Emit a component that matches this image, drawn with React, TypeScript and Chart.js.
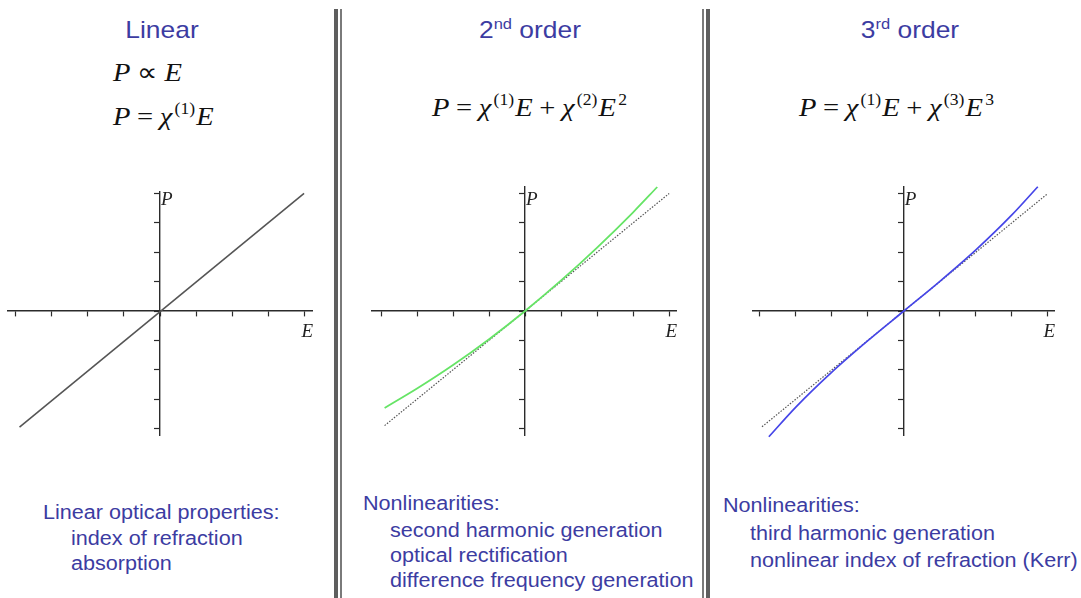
import React, { useEffect, useRef } from "react";
import { Chart, registerables } from "chart.js";

Chart.register(...registerables);

// ---- data -------------------------------------------------------------
// Shared tick positions on both axes (arbitrary units)
const tickValues = [-4, -3, -2, -1, 0, 1, 2, 3, 4];

// Linear response: P = chi(1) E
const linearE = [-3.9, 4.0];
const linearP = [-3.95, 4.0];

// Second order: linear reference and quadratic response
const secondRefE = [-3.9, 4.0];
const secondRefP = [-3.9, 4.0];
const secondE = [-3.9, -3, -2, -1, 0, 1, 2, 3, 3.67];
const secondP = [-3.3, -2.64, -1.84, -0.96, 0, 1.04, 2.16, 3.36, 4.22];

// Third order: linear reference and cubic response
const thirdRefE = [-3.94, 4.0];
const thirdRefP = [-3.94, 4.0];
const thirdE = [-3.75, -3, -2, -1, 0, 1, 2, 3, 3.72];
const thirdP = [-4.28, -3.27, -2.08, -1.01, 0, 1.01, 2.08, 3.27, 4.23];

// Notes under each plot
const linearNotes = ["Linear optical properties:", "index of refraction", "absorption"];
const secondNotes = [
  "Nonlinearities:",
  "second harmonic generation",
  "optical rectification",
  "difference frequency generation",
];
const thirdNotes = ["Nonlinearities:", "third harmonic generation", "nonlinear index of refraction (Kerr)"];

// ---- styles -----------------------------------------------------------
const BLUE_TEXT = "#3c3ca2";
const AXIS = "#2b2b2b";
const SERIF = '"Liberation Serif", "Times New Roman", serif';
const SANS = '"Liberation Sans", Arial, sans-serif';

const toPoints = (xs: number[], ys: number[]) => xs.map((x, i) => ({ x, y: ys[i] }));

// Draws the italic P and E names next to the crossing axes
const axisNames = {
  id: "axisNames",
  afterDraw(chart: any) {
    const { ctx, chartArea, scales } = chart;
    const ox = scales.x.getPixelForValue(0);
    const oy = scales.y.getPixelForValue(0);
    ctx.save();
    ctx.fillStyle = "#222";
    ctx.font = `italic 19px ${SERIF}`;
    ctx.textAlign = "left";
    ctx.textBaseline = "alphabetic";
    ctx.fillText("P", ox + 1, oy - 106);
    ctx.textAlign = "right";
    ctx.fillText("E", chartArea.right + 1, oy + 26);
    ctx.restore();
  },
};

type Area = { left: number; top: number; width: number; height: number };

function Plot({
  area,
  xMin,
  xMax,
  yMin,
  yMax,
  datasets,
}: {
  area: Area;
  xMin: number;
  xMax: number;
  yMin: number;
  yMax: number;
  datasets: any[];
}) {
  const ref = useRef<HTMLCanvasElement>(null);
  const pad = 14;
  useEffect(() => {
    if (!ref.current) return;
    const axis = (min: number, max: number, pos: any) => ({
      type: "linear" as const,
      min,
      max,
      position: pos,
      ticks: { display: false, stepSize: 1, includeBounds: false },
      afterBuildTicks: (s: any) => {
        s.ticks = tickValues.map((v) => ({ value: v }));
      },
      grid: {
        display: true,
        drawOnChartArea: false,
        drawTicks: true,
        tickLength: 5,
        tickWidth: 1.2,
        color: AXIS,
      },
      border: { display: true, color: AXIS, width: 1.4 },
    });
    const chart = new Chart(ref.current, {
      type: "scatter",
      data: { datasets },
      options: {
        animation: false,
        responsive: false,
        devicePixelRatio: 1,
        layout: { padding: pad },
        plugins: { legend: { display: false }, tooltip: { enabled: false } },
        scales: {
          x: axis(xMin, xMax, { y: 0 }),
          y: axis(yMin, yMax, { x: 0 }),
        },
      },
      plugins: [axisNames],
    });
    return () => chart.destroy();
  }, []);
  const w = area.width + pad * 2;
  const h = area.height + pad * 2;
  return (
    <canvas
      ref={ref}
      width={w}
      height={h}
      style={{ position: "absolute", left: area.left - pad, top: area.top - pad, width: w, height: h }}
    />
  );
}

const line = (xs: number[], ys: number[], color: string, width: number, dash: number[] = []) => ({
  data: toPoints(xs, ys),
  showLine: true,
  borderColor: color,
  backgroundColor: color,
  borderWidth: width,
  borderDash: dash,
  pointRadius: 0,
  cubicInterpolationMode: "monotone",
  clip: false,
});

const TitleSup = ({ children }: { children: any }) => (
  <span style={{ fontSize: 15, position: "relative", top: -9, lineHeight: 0 }}>{children}</span>
);

function Title({ cx, cy, children }: { cx: number; cy: number; children: any }) {
  return (
    <div
      style={{
        position: "absolute",
        left: cx - 100,
        width: 200,
        top: cy - 16,
        height: 32,
        lineHeight: "32px",
        textAlign: "center",
        fontFamily: SANS,
        fontSize: 24,
        color: BLUE_TEXT,
        transform: "scaleX(1.1)",
        whiteSpace: "nowrap",
      }}
    >
      {children}
    </div>
  );
}

function Notes({ lines, lefts, cys }: { lines: string[]; lefts: number[]; cys: number[] }) {
  return (
    <>
      {lines.map((t, i) => (
        <div
          key={i}
          style={{
            position: "absolute",
            left: lefts[i],
            top: cys[i] - 13,
            height: 26,
            lineHeight: "26px",
            fontFamily: SANS,
            fontSize: 20,
            color: BLUE_TEXT,
            whiteSpace: "nowrap",
            transform: "scaleX(1.08)",
            transformOrigin: "left center",
          }}
        >
          {t}
        </div>
      ))}
    </>
  );
}

const It = ({ children }: { children: any }) => <span style={{ fontStyle: "italic" }}>{children}</span>;
const Sup = ({ children }: { children: any }) => (
  <span style={{ fontSize: 16, position: "relative", top: -11, lineHeight: 0, marginLeft: 2, marginRight: 1 }}>
    {children}
  </span>
);
const Op = ({ children }: { children: any }) => <span style={{ margin: "0 6px" }}>{children}</span>;

function Eq({ left, baseline, children }: { left: number; baseline: number; children: any }) {
  return (
    <div
      style={{
        position: "absolute",
        left,
        top: baseline - 24,
        height: 30,
        lineHeight: "30px",
        fontFamily: SERIF,
        fontSize: 26,
        color: "#111",
        whiteSpace: "nowrap",
        transform: "scaleX(1.1)",
        transformOrigin: "left center",
      }}
    >
      {children}
    </div>
  );
}

function Separator({ left, thickFirst }: { left: number; thickFirst: boolean }) {
  const thick = { position: "absolute" as const, top: 9, bottom: 0, width: 4, background: "#5e5e5e" };
  const thin = { position: "absolute" as const, top: 9, bottom: 0, width: 1.5, background: "#7a7a7a" };
  return thickFirst ? (
    <>
      <div style={{ ...thick, left }} />
      <div style={{ ...thin, left: left + 6 }} />
    </>
  ) : (
    <>
      <div style={{ ...thin, left }} />
      <div style={{ ...thick, left: left + 4 }} />
    </>
  );
}

export default function App() {
  return (
    <div
      style={{
        position: "fixed",
        left: 0,
        top: 0,
        width: 1081,
        height: 598,
        background: "#fff",
        overflow: "hidden",
      }}
    >
      <Separator left={334} thickFirst={true} />
      <Separator left={702} thickFirst={false} />

      <Title cx={162} cy={30}>Linear</Title>
      <Title cx={530} cy={30}>
        2<TitleSup>nd</TitleSup> order
      </Title>
      <Title cx={910} cy={30}>
        3<TitleSup>rd</TitleSup> order
      </Title>

      <Eq left={113} baseline={82}>
        <It>P</It>
        <Op>∝</Op>
        <It>E</It>
      </Eq>
      <Eq left={113} baseline={126}>
        <It>P</It>
        <Op>=</Op>
        <It>χ</It>
        <Sup>(1)</Sup>
        <It>E</It>
      </Eq>
      <Eq left={432} baseline={117}>
        <It>P</It>
        <Op>=</Op>
        <It>χ</It>
        <Sup>(1)</Sup>
        <It>E</It>
        <Op>+</Op>
        <It>χ</It>
        <Sup>(2)</Sup>
        <It>E</It>
        <Sup>2</Sup>
      </Eq>
      <Eq left={799} baseline={117}>
        <It>P</It>
        <Op>=</Op>
        <It>χ</It>
        <Sup>(1)</Sup>
        <It>E</It>
        <Op>+</Op>
        <It>χ</It>
        <Sup>(3)</Sup>
        <It>E</It>
        <Sup>3</Sup>
      </Eq>

      <Plot
        area={{ left: 8, top: 192, width: 304, height: 243 }}
        xMin={-4.22}
        xMax={4.22}
        yMin={-4.22}
        yMax={4.05}
        datasets={[line(linearE, linearP, "#555555", 1.6)]}
      />
      <Plot
        area={{ left: 372, top: 187, width: 304, height: 248 }}
        xMin={-4.25}
        xMax={4.19}
        yMin={-4.22}
        yMax={4.22}
        datasets={[
          line(secondE, secondP, "#66e466", 1.8),
          line(secondRefE, secondRefP, "#555555", 1.2, [1.5, 1.5]),
        ]}
      />
      <Plot
        area={{ left: 753, top: 187, width: 301, height: 248 }}
        xMin={-4.19}
        xMax={4.17}
        yMin={-4.22}
        yMax={4.22}
        datasets={[
          line(thirdE, thirdP, "#4646e8", 1.7),
          line(thirdRefE, thirdRefP, "#555555", 1.2, [1.5, 1.5]),
        ]}
      />

      <Notes lines={linearNotes} lefts={[43, 71, 71]} cys={[512, 538, 563]} />
      <Notes lines={secondNotes} lefts={[363, 390, 390, 390]} cys={[503, 530, 555, 580]} />
      <Notes lines={thirdNotes} lefts={[723, 750, 750]} cys={[505, 533, 560]} />
    </div>
  );
}
